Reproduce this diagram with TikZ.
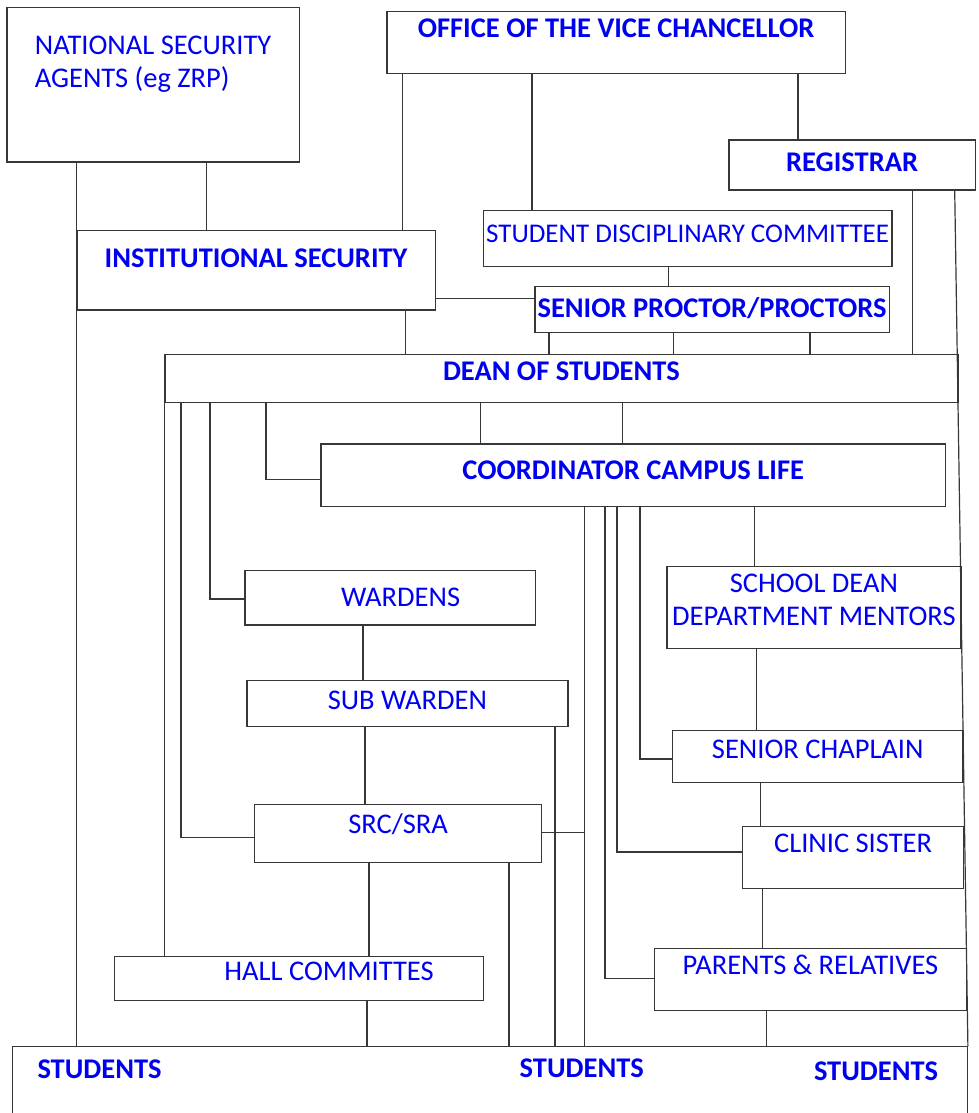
\documentclass[tikz,border=0pt]{standalone}
\usepackage{fontspec}
\setmainfont{Carlito}

\definecolor{orgblue}{RGB}{0,0,240}
\definecolor{orgline}{RGB}{55,55,55}

\begin{document}
\begin{tikzpicture}[
    x=1pt, y=-1pt,
    box/.style={draw=orgline, line width=1.2pt, inner sep=0pt, anchor=north west,
                text=orgblue, font=\fontsize{28.5}{33}\selectfont},
    boldbox/.style={box, font=\fontsize{28.5}{33}\selectfont\bfseries},
    tag/.style={inner sep=0pt, anchor=base, text=orgblue, font=\fontsize{28.5}{33}\selectfont\bfseries},
    link/.style={draw=orgline, line width=1.2pt}
]
\useasboundingbox (0,0) rectangle (979,1113);

% top level
\node[box, align=left, minimum width=292.4pt, text height=79.2pt, text depth=74.8pt] (natsec) at (6.3,7.3) {NATIONAL SECURITY\\AGENTS (eg ZRP)};
\node[boldbox, minimum width=458.4pt, text height=25.5pt, text depth=36.2pt] (ovc) at (386.3,11.3) {OFFICE OF THE VICE CHANCELLOR};
\node[boldbox, minimum width=246.4pt, text height=31.5pt, text depth=18.5pt] (registrar) at (728.3,139.3) {REGISTRAR};
\node[box, font=\fontsize{27}{33}\selectfont, minimum width=408.6pt, text height=32.1pt, text depth=23.9pt] (sdc) at (482.7,209.7) {STUDENT DISCIPLINARY COMMITTEE};
\node[boldbox, minimum width=358.4pt, text height=36.8pt, text depth=42.5pt] (instsec) at (76.3,230) {INSTITUTIONAL SECURITY};
\node[boldbox, minimum width=354.4pt, text height=31.1pt, text depth=14.9pt] (proctor) at (534.3,285.7) {SENIOR PROCTOR/PROCTORS};
\node[boldbox, minimum width=793pt, text height=26.2pt, text depth=21.8pt] (dean) at (164.3,354) {DEAN OF STUDENTS};
\node[boldbox, minimum width=624.7pt, text height=35.2pt, text depth=27.5pt] (coord) at (320.3,443.3) {COORDINATOR CAMPUS LIFE};

% left branch
\node[box, minimum width=290.4pt, text height=36.2pt, text depth=18.1pt] (wardens) at (244.3,570) {\hspace*{21pt}WARDENS};
\node[box, minimum width=321pt, text height=28.5pt, text depth=17.5pt] (subwarden) at (246.3,680) {SUB WARDEN};
\node[box, minimum width=287pt, text height=28.5pt, text depth=29.5pt] (src) at (254,804) {SRC/SRA};
\node[box, minimum width=369pt, text height=24.5pt, text depth=19.8pt] (hall) at (114,955.7) {\hspace*{60pt}HALL COMMITTES};

% right branch
\node[box, align=center, minimum width=294pt, text height=59.1pt, text depth=22.9pt] (schooldean) at (666.3,565.7) {SCHOOL DEAN\\DEPARTMENT MENTORS};
\node[box, minimum width=290.3pt, text height=27.5pt, text depth=24.5pt] (chaplain) at (672,730) {SENIOR CHAPLAIN};
\node[box, minimum width=221pt, text height=25.8pt, text depth=36.2pt] (clinic) at (742,826) {CLINIC SISTER};
\node[box, minimum width=311.7pt, text height=25.5pt, text depth=36.5pt] (parents) at (654,948) {PARENTS \& RELATIVES};

% students
\node[box, minimum width=954.7pt, minimum height=80pt] (students) at (12,1046) {};
\node[tag] (stuleft) at (99.5,1078.5) {STUDENTS};
\node[tag] (stumid) at (581.7,1077.5) {STUDENTS};
\node[tag] (sturight) at (876,1080.2) {STUDENTS};
\coordinate (srcjoin) at (584.3,832.7);

% upper links
\draw[link] (natsec.south -| 76.3,0) -- (students.north -| 76.3,0);
\draw[link] (natsec.south -| 206.3,0) -- (instsec.north -| 206.3,0);
\draw[link] (ovc.south -| 402.3,0) -- (instsec.north -| 402.3,0);
\draw[link] (ovc.south -| 532,0) -- (sdc.north -| 532,0);
\draw[link] (ovc.south -| 798,0) -- (registrar.north -| 798,0);
\draw[link] (sdc.south -| 668.7,0) -- (proctor.north -| 668.7,0);
\draw[link] (instsec.east |- 0,298.3) -- (proctor.west |- 0,298.3);
\draw[link] (instsec.south -| 405.7,0) -- (dean.north -| 405.7,0);
\foreach \x in {549,673.7,810}
    \draw[link] (proctor.south -| \x,0) -- (dean.north -| \x,0);
\draw[link] (registrar.south -| 912.7,0) -- (dean.north -| 912.7,0);
\draw[link] (registrar.south -| 954.7,0) -- (students.north east);

% dean of students links
\draw[link] (dean.south west) -- (hall.north -| dean.west);
\draw[link] (dean.south -| 181,0) |- (src.west |- 0,837.7);
\draw[link] (dean.south -| 210,0) |- (wardens.west |- 0,599);
\draw[link] (dean.south -| 266,0) |- (coord.west |- 0,479.3);
\draw[link] (dean.south -| 480.7,0) -- (coord.north -| 480.7,0);
\draw[link] (dean.south -| 622.7,0) -- (coord.north -| 622.7,0);

% halls chain
\draw[link] (wardens.south -| 363,0) -- (subwarden.north -| 363,0);
\draw[link] (subwarden.south -| 365,0) -- (src.north -| 365,0);
\draw[link] (subwarden.south -| 555,0) -- (students.north -| 555,0);
\draw[link] (src.east |- srcjoin) -- (srcjoin);
\draw[link] (src.south -| 369,0) -- (hall.north -| 369,0);
\draw[link] (src.south -| 509,0) -- (students.north -| 509,0);
\draw[link] (hall.south -| 367,0) -- (students.north -| 367,0);

% campus life links
\draw[link] (coord.south -| 584.3,0) -- (students.north -| 584.3,0);
\draw[link] (coord.south -| 605,0) |- (parents.west |- 0,978.5);
\draw[link] (coord.south -| 617,0) |- (clinic.west |- 0,852);
\draw[link] (coord.south -| 640,0) |- (chaplain.west |- 0,759);
\draw[link] (coord.south -| 754.7,0) -- (schooldean.north -| 754.7,0);
\draw[link] (schooldean.south -| 756.7,0) -- (chaplain.north -| 756.7,0);
\draw[link] (chaplain.south -| 760.7,0) -- (clinic.north -| 760.7,0);
\draw[link] (clinic.south -| 762.7,0) -- (parents.north -| 762.7,0);
\draw[link] (parents.south -| 766.7,0) -- (students.north -| 766.7,0);
\end{tikzpicture}
\end{document}
